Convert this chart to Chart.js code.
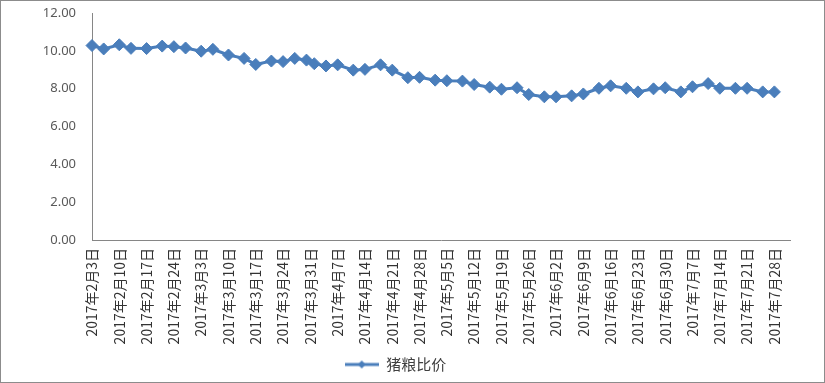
<!DOCTYPE html>
<html>
<head>
<meta charset="utf-8">
<script src="https://cdn.jsdelivr.net/npm/chart.js@4.4.1/dist/chart.umd.min.js"></script>
<style>
    html, body { margin: 0; padding: 0; background: #fff; }
    #wrap { width: 825px; height: 383px; box-sizing: border-box; border: 1px solid #8c8c8c; }
    canvas { display: block; }
</style>
</head>
<body>
<div id="wrap"><canvas id="grafico" width="823" height="381"></canvas></div>
<script>
const seriesName = '猪粮比价';

const dates = [
    '02-03', '02-06', '02-10', '02-13', '02-17', '02-21', '02-24', '02-27', '03-03', '03-06',
    '03-10', '03-14', '03-17', '03-21', '03-24', '03-27', '03-30', '04-01', '04-04', '04-07',
    '04-11', '04-14', '04-18', '04-21', '04-25', '04-28', '05-02', '05-05', '05-09', '05-12',
    '05-16', '05-19', '05-23', '05-26', '05-30', '06-02', '06-06', '06-09', '06-13', '06-16',
    '06-20', '06-23', '06-27', '06-30', '07-04', '07-07', '07-11', '07-14', '07-18', '07-21',
    '07-25', '07-28'
];
const ratios = [
    10.28, 10.10, 10.32, 10.13, 10.12, 10.25, 10.22, 10.15, 9.98, 10.08,
    9.78, 9.60, 9.28, 9.46, 9.43, 9.60, 9.51, 9.32, 9.20, 9.26,
    8.98, 9.02, 9.26, 8.98, 8.58, 8.60, 8.45, 8.42, 8.40, 8.22,
    8.08, 7.97, 8.05, 7.69, 7.57, 7.57, 7.62, 7.72, 8.02, 8.15,
    8.02, 7.83, 7.99, 8.05, 7.83, 8.10, 8.27, 8.02, 8.02, 8.02,
    7.83, 7.83
];

const tickLabels = [
    '2017年2月3日', '2017年2月10日', '2017年2月17日', '2017年2月24日', '2017年3月3日',
    '2017年3月10日', '2017年3月17日', '2017年3月24日', '2017年3月31日', '2017年4月7日',
    '2017年4月14日', '2017年4月21日', '2017年4月28日', '2017年5月5日', '2017年5月12日',
    '2017年5月19日', '2017年5月26日', '2017年6月2日', '2017年6月9日', '2017年6月16日',
    '2017年6月23日', '2017年6月30日', '2017年7月7日', '2017年7月14日', '2017年7月21日',
    '2017年7月28日'
];

const blue = '#4a7ebb';
const axisColor = '#868686';
const start = Date.UTC(2017, 1, 3);
const dayOf = (m, d) => (Date.UTC(2017, m - 1, d) - start) / 86400000;

const points = dates.map((s, i) => {
    const [m, d] = s.split('-').map(Number);
    return { x: dayOf(m, d), y: ratios[i] };
});
const tickDays = tickLabels.map(t => {
    const p = t.match(/(\d+)年(\d+)月(\d+)日/);
    return dayOf(+p[2], +p[3]);
});

// legend icon: line with a small diamond, like the office legend
const icon = document.createElement('canvas');
icon.width = 34; icon.height = 10;
const ic = icon.getContext('2d');
ic.strokeStyle = blue; ic.lineWidth = 3;
ic.beginPath(); ic.moveTo(0, 5); ic.lineTo(34, 5); ic.stroke();
ic.fillStyle = blue;
ic.beginPath(); ic.moveTo(17, 1); ic.lineTo(21, 5); ic.lineTo(17, 9); ic.lineTo(13, 5); ic.closePath(); ic.fill();

const ctx = document.getElementById('grafico').getContext('2d');
new Chart(ctx, {
    type: 'line',
    data: {
        datasets: [{
            label: seriesName,
            data: points,
            borderColor: blue,
            backgroundColor: blue,
            borderWidth: 3,
            pointStyle: 'rectRot',
            pointRadius: 6,
            pointBorderWidth: 1,
            tension: 0,
            clip: false
        }]
    },
    options: {
        responsive: false,
        animation: false,
        layout: { padding: { top: 12, right: 34, left: 0, bottom: 0 } },
        plugins: {
            tooltip: { enabled: false },
            legend: {
                position: 'bottom',
                labels: {
                    usePointStyle: true,
                    pointStyle: icon,
                    pointStyleWidth: 34,
                    padding: 8,
                    color: '#404040',
                    font: { family: '"Noto Sans CJK SC", "Noto Sans", sans-serif', size: 15 }
                }
            }
        },
        scales: {
            x: {
                type: 'linear',
                min: 0,
                max: 179,
                afterBuildTicks: s => { s.ticks = tickDays.map(v => ({ value: v })); },
                afterFit: s => { s.height = 109; },
                grid: { display: false, drawTicks: false },
                border: { display: true, color: axisColor, width: 1 },
                ticks: {
                    autoSkip: false,
                    minRotation: 90,
                    maxRotation: 90,
                    padding: 8,
                    color: '#333333',
                    font: { family: '"Noto Sans CJK SC", "Noto Sans", sans-serif', size: 14 },
                    callback: (v, i) => tickLabels[i]
                }
            },
            y: {
                min: 0,
                max: 12,
                afterFit: s => { s.width = 91; s.paddingTop = 0; s.paddingBottom = 0; },
                grid: { display: false, drawTicks: false },
                border: { display: true, color: axisColor, width: 1 },
                ticks: {
                    stepSize: 2,
                    padding: 16,
                    color: '#595959',
                    font: { family: '"Noto Sans", sans-serif', size: 13 },
                    callback: v => v.toFixed(2)
                }
            }
        }
    }
});
</script>
</body>
</html>
